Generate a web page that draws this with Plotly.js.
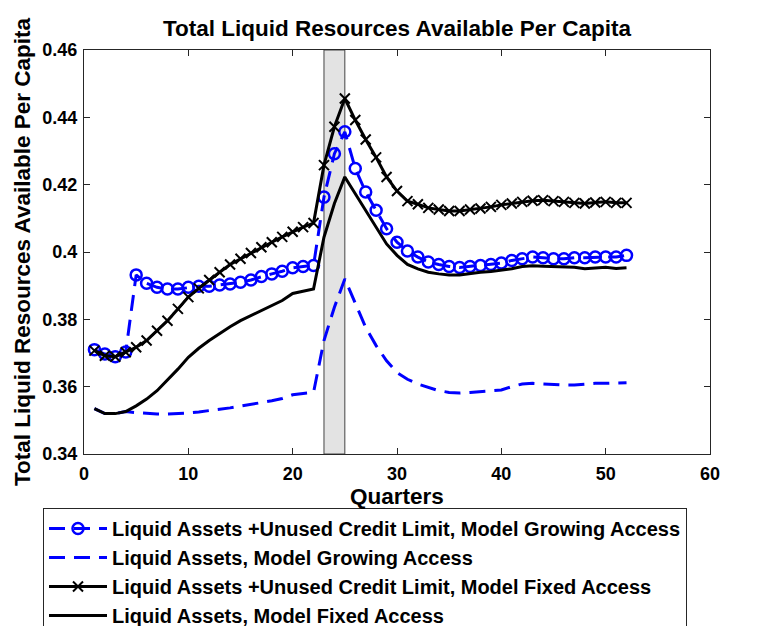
<!DOCTYPE html>
<html>
<head>
<meta charset="utf-8">
<script src="https://cdn.plot.ly/plotly-3.0.1.min.js"></script>
<style>html,body{margin:0;padding:0;background:#fff;}#chart{width:760px;height:626px;}</style>
</head>
<body>
<div id="chart"></div>
<script>
const quarters = [1,2,3,4,5,6,7,8,9,10,11,12,13,14,15,16,17,18,19,20,21,22,23,24,25,26,27,28,29,30,31,32,33,34,35,36,37,38,39,40,41,42,43,44,45,46,47,48,49,50,51,52];

const growCredit = [0.3710,0.3697,0.3689,0.3703,0.3932,0.3907,0.3895,0.3890,0.3890,0.3895,0.3898,0.3898,0.3902,0.3905,0.3910,0.3917,0.3927,0.3935,0.3943,0.3953,0.3957,0.3960,0.4163,0.4292,0.4357,0.4248,0.4178,0.4124,0.4069,0.4029,0.4003,0.3985,0.3970,0.3963,0.3957,0.3954,0.3957,0.3960,0.3963,0.3967,0.3975,0.3980,0.3985,0.3983,0.3980,0.3980,0.3983,0.3983,0.3985,0.3985,0.3985,0.3990];

const growLiquid = [0.3535,0.3520,0.3520,0.3526,0.3523,0.3520,0.3519,0.3519,0.3520,0.3522,0.3525,0.3528,0.3533,0.3537,0.3542,0.3547,0.3552,0.3558,0.3565,0.3576,0.3580,0.3583,0.3737,0.3836,0.3920,0.3846,0.3776,0.3722,0.3677,0.3642,0.3622,0.3608,0.3597,0.3588,0.3583,0.3581,0.3583,0.3585,0.3586,0.3590,0.3600,0.3608,0.3610,0.3608,0.3605,0.3605,0.3605,0.3608,0.3610,0.3610,0.3610,0.3612];

const fixedCredit = [0.3707,0.3692,0.3689,0.3702,0.3717,0.3737,0.3766,0.3796,0.3831,0.3866,0.3892,0.3917,0.3940,0.3963,0.3980,0.3997,0.4014,0.4029,0.4045,0.4060,0.4074,0.4086,0.4258,0.4372,0.4456,0.4392,0.4334,0.4281,0.4223,0.4181,0.4151,0.4142,0.4131,0.4126,0.4122,0.4122,0.4126,0.4129,0.4134,0.4140,0.4144,0.4149,0.4152,0.4154,0.4151,0.4149,0.4146,0.4144,0.4147,0.4149,0.4146,0.4146];

const fixedLiquid = [0.3535,0.3520,0.3520,0.3526,0.3543,0.3563,0.3588,0.3619,0.3652,0.3687,0.3714,0.3737,0.3758,0.3778,0.3796,0.3811,0.3826,0.3841,0.3856,0.3877,0.3883,0.3890,0.4044,0.4144,0.4223,0.4173,0.4124,0.4074,0.4024,0.3990,0.3963,0.3950,0.3940,0.3935,0.3932,0.3932,0.3937,0.3940,0.3942,0.3945,0.3950,0.3957,0.3959,0.3958,0.3957,0.3957,0.3955,0.3950,0.3953,0.3955,0.3951,0.3953];

const seriesNames = [
  "Liquid Assets +Unused Credit Limit, Model Growing Access",
  "Liquid Assets, Model Growing Access",
  "Liquid Assets +Unused Credit Limit, Model Fixed Access",
  "Liquid Assets, Model Fixed Access"
];

const recessionStart = 23;
const recessionEnd = 25;

const xTicks = [0,10,20,30,40,50,60];
const yTicks = [0.34,0.36,0.38,0.40,0.42,0.44,0.46];
const yTickText = ["0.34","0.36","0.38","0.4","0.42","0.44","0.46"];

const FONT = "Liberation Sans, Arial, Helvetica, sans-serif";
const BLUE = "#0000ff";
const DASH = "16px,9px";
const BIG = 22.5;

const traces = [
  {x: quarters, y: growCredit, name: seriesNames[0], type: "scatter", mode: "lines+markers",
   line: {color: BLUE, width: 3, dash: DASH},
   marker: {symbol: "circle-open", size: 11, color: BLUE, line: {width: 2.5, color: BLUE}}},
  {x: quarters, y: growLiquid, name: seriesNames[1], type: "scatter", mode: "lines",
   line: {color: BLUE, width: 3, dash: DASH}},
  {x: quarters, y: fixedCredit, name: seriesNames[2], type: "scatter", mode: "lines+markers",
   line: {color: "#000000", width: 3},
   marker: {symbol: "x-thin-open", size: 10, color: "#000000", line: {width: 2, color: "#000000"}}},
  {x: quarters, y: fixedLiquid, name: seriesNames[3], type: "scatter", mode: "lines",
   line: {color: "#000000", width: 3}}
];

const axisCommon = {
  showgrid: false, zeroline: false, showline: true, linecolor: "#262626", linewidth: 1,
  mirror: "ticks", ticks: "inside", ticklen: 6, tickwidth: 1, tickcolor: "#262626",
  tickfont: {family: FONT, size: 18, color: "#000", weight: "bold"}
};

const layout = {
  width: 760, height: 626,
  margin: {l: 84, r: 50, t: 50, b: 172, autoexpand: false},
  paper_bgcolor: "#fff", plot_bgcolor: "#fff",
  font: {family: FONT, color: "#000"},
  title: {text: "<b>Total Liquid Resources Available Per Capita</b>",
          font: {family: FONT, size: BIG, color: "#000"},
          x: 0.5, xref: "paper", xanchor: "center", y: 1 - 28/626, yref: "container", yanchor: "middle"},
  xaxis: Object.assign({}, axisCommon, {
    range: [0, 60], tickvals: xTicks, ticktext: xTicks.map(String), automargin: false,
    ticklabelstandoff: 3,
    title: {text: "<b>Quarters</b>", font: {family: FONT, size: BIG, color: "#000"}, standoff: 4}
  }),
  yaxis: Object.assign({}, axisCommon, {
    range: [0.34, 0.46], tickvals: yTicks, ticktext: yTickText, automargin: false,
    ticklabelstandoff: 2,
    title: {text: "<b>Total Liquid Resources Available Per Capita</b>", font: {family: FONT, size: BIG, color: "#000"}, standoff: 5}
  }),
  shapes: [{
    type: "rect", xref: "x", yref: "paper", x0: recessionStart, x1: recessionEnd, y0: 0, y1: 1,
    fillcolor: "#e3e3e3", line: {color: "#444444", width: 1}, layer: "below"
  }],
  showlegend: true,
  legend: {
    x: -0.0655, xref: "paper", xanchor: "left", y: -0.1337, yref: "paper", yanchor: "top",
    bgcolor: "#fff", bordercolor: "#262626", borderwidth: 1,
    font: {family: FONT, size: 20, color: "#000", weight: "bold"},
    itemwidth: 58, tracegroupgap: 0
  }
};

Plotly.newPlot("chart", traces, layout, {displayModeBar: false, staticPlot: true});
</script>
</body>
</html>
